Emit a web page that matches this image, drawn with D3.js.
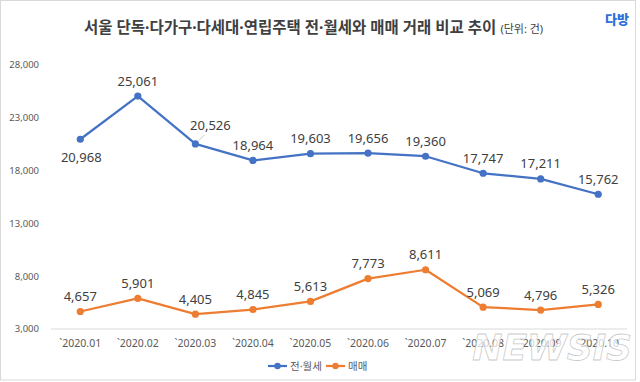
<!DOCTYPE html>
<html>
<head>
  <meta charset="utf-8">
  <title>서울 전·월세와 매매 거래</title>
  <script src="https://d3js.org/d3.v7.min.js"></script>
  <style>
    body { margin: 0; background: #fff; }
    text { font-family: "Noto Sans", "Noto Sans CJK KR", sans-serif; }
  </style>
</head>
<body>
  <svg id="chart" width="640" height="382"></svg>

  <script>
    // 데이터
    var months = ["`2020.01", "`2020.02", "`2020.03", "`2020.04", "`2020.05",
                  "`2020.06", "`2020.07", "`2020.08", "`2020.09", "`2020.10"];
    var rentValues = [20968, 25061, 20526, 18964, 19603, 19656, 19360, 17747, 17211, 15762];
    var saleValues = [4657, 5901, 4405, 4845, 5613, 7773, 8611, 5069, 4796, 5326];
    var yTicks = [3000, 8000, 13000, 18000, 23000, 28000];
    var seriesNames = ["전·월세", "매매"];

    var blue = "#4472c4", orange = "#ed7d31";

    var svg = d3.select("#chart");

    // 테두리
    svg.append("rect")
      .attr("x", 0.5).attr("y", 0.5)
      .attr("width", 635).attr("height", 379.5)
      .attr("fill", "none")
      .attr("stroke", "#d9d9d9");

    // 제목
    var title = svg.append("text")
      .attr("x", 84).attr("y", 33)
      .attr("fill", "#404040")
      .style("font-size", "15.5px")
      .style("font-weight", 700);
    title.append("tspan").text("서울 단독·다가구·다세대·연립주택 전·월세와 매매 거래 비교 추이");
    title.append("tspan").attr("dx", 4).style("font-size", "11px").style("font-weight", 400).text("(단위: 건)");

    // 로고
    svg.append("text")
      .attr("x", 617).attr("y", 24)
      .attr("text-anchor", "middle")
      .attr("fill", "#2f6fd8")
      .style("font-size", "13px")
      .style("font-weight", 900)
      .text("다방");

    // 스케일
    var x = d3.scaleBand()
      .domain(months)
      .range([51.5, 627]);
    var cx = function(i) { return x(months[i]) + x.bandwidth() / 2; };

    var y = d3.scaleLinear()
      .domain([3000, 28000])
      .range([329, 65]);

    // 축
    svg.append("line")
      .attr("x1", 51).attr("x2", 627)
      .attr("y1", y(3000)).attr("y2", y(3000))
      .attr("stroke", "#d9d9d9").attr("stroke-width", 1);

    svg.append("g")
      .selectAll("text")
      .data(yTicks)
      .enter().append("text")
        .attr("x", 39)
        .attr("y", function(d) { return y(d); })
        .attr("dy", "0.35em")
        .attr("text-anchor", "end")
        .attr("fill", "#595959")
        .style("font-size", "9.5px")
        .text(function(d) { return d3.format(",")(d); });

    svg.append("g")
      .selectAll("text")
      .data(months)
      .enter().append("text")
        .attr("x", function(d, i) { return cx(i); })
        .attr("y", 343)
        .attr("dy", "0.35em")
        .attr("text-anchor", "middle")
        .attr("fill", "#595959")
        .style("font-size", "10.5px")
        .text(function(d) { return d; });

    // 선 그리기
    var line = d3.line()
      .x(function(d, i) { return cx(i); })
      .y(function(d) { return y(d); });

    function drawSeries(values, color, labelPos) {
      var g = svg.append("g");
      g.append("path")
        .datum(values)
        .attr("d", line)
        .attr("fill", "none")
        .attr("stroke", color)
        .attr("stroke-width", 2.25)
        .attr("stroke-linejoin", "round");
      g.selectAll("circle")
        .data(values)
        .enter().append("circle")
          .attr("cx", function(d, i) { return cx(i); })
          .attr("cy", function(d) { return y(d); })
          .attr("r", 3.6)
          .attr("fill", color);
      g.selectAll(".lbl")
        .data(values)
        .enter().append("text")
          .attr("class", "lbl")
          .attr("x", function(d, i) { return cx(i) + (labelPos[i] ? labelPos[i][0] : 0); })
          .attr("y", function(d, i) { return y(d) + (labelPos[i] ? labelPos[i][1] : -15); })
          .attr("dy", "0.35em")
          .attr("text-anchor", "middle")
          .attr("fill", "#404040")
          .style("font-size", "13px")
          .text(function(d) { return d3.format(",")(d); });
    }

    // 라벨 위치 보정 (기본: 점 위 15px)
    drawSeries(rentValues, blue, { 0: [1, 18], 2: [15, -18] });
    drawSeries(saleValues, orange, {});

    // 20,526 라벨 지시선
    svg.append("line")
      .attr("x1", cx(2) + 3).attr("y1", y(rentValues[2]) - 3)
      .attr("x2", cx(2) + 9).attr("y2", y(rentValues[2]) - 9)
      .attr("stroke", "#bfbfbf").attr("stroke-width", 0.8);

    // 범례
    var legend = svg.append("g").attr("transform", "translate(268,366)");
    [blue, orange].forEach(function(c, i) {
      var lg = legend.append("g").attr("transform", "translate(" + (i * 58) + ",0)");
      lg.append("line").attr("x1", 0).attr("x2", 19).attr("stroke", c).attr("stroke-width", 2.25);
      lg.append("circle").attr("cx", 9.5).attr("r", 3.2).attr("fill", c);
      lg.append("text")
        .attr("x", 22).attr("dy", "0.35em")
        .attr("fill", "#595959")
        .style("font-size", "10.5px")
        .text(seriesNames[i]);
    });

    // 워터마크
    svg.append("text")
      .attr("x", 632).attr("y", 360)
      .attr("text-anchor", "end")
      .attr("fill", "#ffffff")
      .attr("fill-opacity", 0.75)
      .attr("stroke", "#bdbdbd")
      .attr("stroke-width", 0.8)
      .attr("stroke-opacity", 0.8)
      .style("font-family", "'DejaVu Sans', sans-serif")
      .style("font-size", "36px")
      .style("font-weight", 700)
      .style("font-style", "italic")
      .text("NEWSIS");
  </script>
</body>
</html>
